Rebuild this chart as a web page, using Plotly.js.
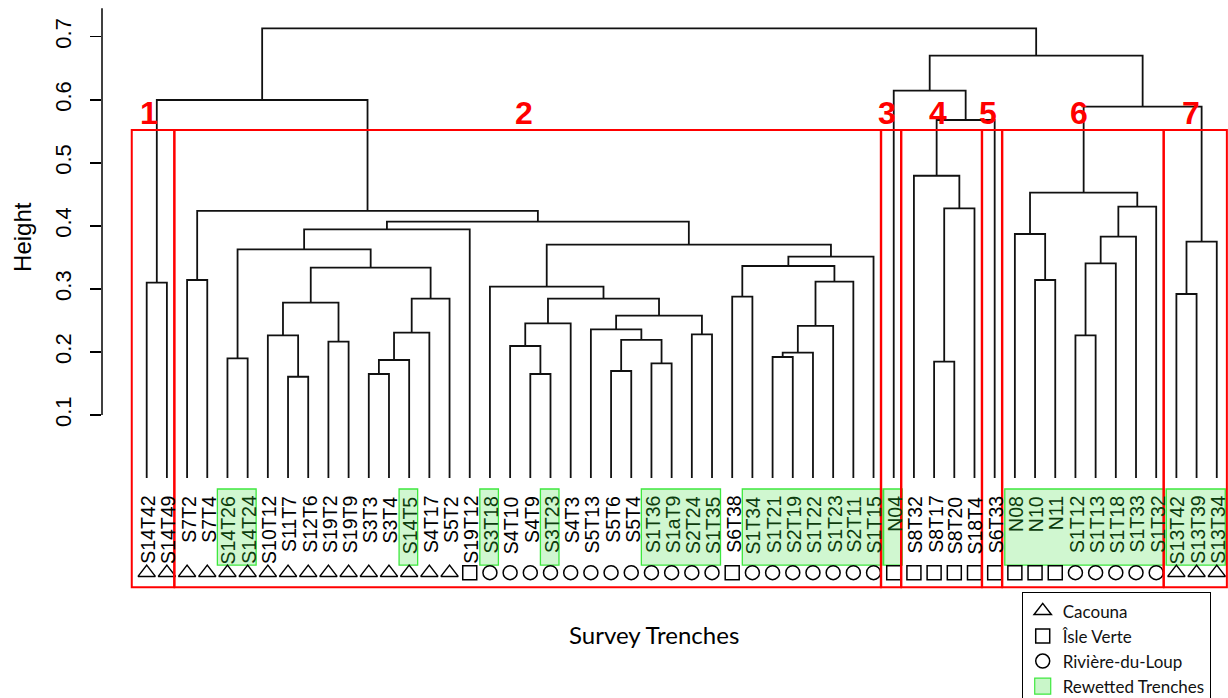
<!DOCTYPE html>
<html>
<head>
<meta charset="utf-8">
<script src="https://cdn.plot.ly/plotly-3.0.1.min.js"></script>
<style>
  html, body { margin: 0; padding: 0; background: #fff; }
  #chart { width: 1228px; height: 698px; }
</style>
</head>
<body>
<div id="chart"></div>
<script>
// Survey trenches in dendrogram (leaf) order
const leafLabels = [
  'S14T42','S14T49','S7T2','S7T4','S14T26','S14T24','S10T12','S11T7','S12T6','S19T2',
  'S19T9','S3T3','S3T4','S14T5','S4T17','S5T2','S19T12','S3T18','S4T10','S4T9',
  'S3T23','S4T3','S5T13','S5T6','S5T4','S1T36','S1aT9','S2T24','S1T35','S6T38',
  'S1T34','S1T21','S2T19','S1T22','S1T23','S2T11','S1T15','N04','S8T32','S8T17',
  'S8T20','S18T4','S6T33','N08','N10','N11','S1T12','S1T13','S1T18','S1T33',
  'S1T32','S13T42','S13T39','S13T34'
];

// Site of each trench: C = Cacouna, I = Îsle Verte, R = Rivière-du-Loup
const leafSite = [
  'C','C','C','C','C','C','C','C','C','C',
  'C','C','C','C','C','C','I','R','R','R',
  'R','R','R','R','R','R','R','R','R','I',
  'R','R','R','R','R','R','R','I','I','I',
  'I','I','I','I','I','I','R','R','R','R',
  'R','C','C','C'
];
const siteCodes = ['C', 'I', 'R'];
const siteNames = ['Cacouna', 'Îsle Verte', 'Rivière-du-Loup'];

// 1 = rewetted trench
const rewetted = [
  0,0,0,0,1,1,0,0,0,0,
  0,0,0,1,0,0,0,1,0,0,
  1,0,0,0,0,1,1,1,1,0,
  1,1,1,1,1,1,1,1,0,0,
  0,0,0,1,1,1,1,1,1,1,
  1,1,1,1
];

// Agglomeration steps (hclust convention: -i = leaf i, +k = result of step k)
const mergeA = [
  -8, -12, -20, -24, -26, -40, -14, -5, -32, 9,
  -19, -10, 4, -7, -47, -28, 7, -23, 10, 11,
  18, 14, 17, 20, -30, -52, -18, -1, 19, -3,
  -45, 22, 25, 15, 33, 8, 27, 26, 34, -44,
  36, 41, 30, 6, 39, 40, -39, 47, 46, 28,
  -38, 51, 50
];
const mergeB = [
  -9, -13, -21, -25, -27, -41, 2, -6, -33, -34,
  3, -11, 5, 1, -48, -29, -15, 13, -35, -22,
  16, 12, -16, 21, -31, -53, 24, -2, -36, -4,
  -46, 23, 29, -49, -37, 32, 35, -54, -50, 31,
  -17, 37, 42, -42, -51, 45, 44, -43, 38, 43,
  48, 49, 52
];
const mergeHeight = [
  0.1607, 0.1650, 0.1650, 0.1698, 0.1820, 0.1845, 0.1872, 0.1899, 0.1920, 0.1988,
  0.2094, 0.2163, 0.2190, 0.2264, 0.2264, 0.2280, 0.2305, 0.2359, 0.2412, 0.2454,
  0.2575, 0.2781, 0.2845, 0.2845, 0.2876, 0.2919, 0.3035, 0.3098, 0.3114, 0.3141,
  0.3141, 0.3336, 0.3363, 0.3406, 0.3511, 0.3628, 0.3701, 0.3749, 0.3828, 0.3871,
  0.3945, 0.4066, 0.4236, 0.4278, 0.4304, 0.4526, 0.4795, 0.5679, 0.5890, 0.5996,
  0.6144, 0.6699, 0.7133
];

// Seven groups, left to right (number of trenches in each)
const clusterSizes = [2, 35, 1, 4, 1, 8, 3];
const clusterNames = ['1', '2', '3', '4', '5', '6', '7'];

const yTicks = [0.1, 0.2, 0.3, 0.4, 0.5, 0.6, 0.7];

// ---------- geometry helpers ----------
const SYMBOL_ROW = -0.15;      // height of the site-symbol row
const LABEL_TOP = -0.027;      // top of the rotated trench labels
const BOX_TOP = 0.552;         // top of the group rectangles
const BOX_BOTTOM = -0.1733;
const SHADE_TOP = -0.0174, SHADE_BOTTOM = -0.138;

const n = leafLabels.length;
const leafX = leafLabels.map((_, i) => i + 1);

// dendrogram segments
const nodeX = [], nodeH = [];
function child(id) {
  return id < 0 ? { x: leafX[-id - 1], h: 0 } : { x: nodeX[id - 1], h: nodeH[id - 1] };
}
const segX = [], segY = [];
mergeA.forEach((a, k) => {
  const A = child(a), B = child(mergeB[k]), H = mergeHeight[k];
  segX.push(A.x, A.x, B.x, B.x, null);
  segY.push(A.h, H, H, B.h, null);
  nodeX.push((A.x + B.x) / 2);
  nodeH.push(H);
});

const traces = [{
  type: 'scatter', mode: 'lines', x: segX, y: segY,
  line: { color: '#111', width: 1.8 }, hoverinfo: 'skip', showlegend: false
}];

// site symbols
const siteSymbols = ['triangle-up-open', 'square-open', 'circle-open'];
const siteSizes = [15, 14, 14];
siteCodes.forEach((code, s) => {
  const xs = leafX.filter((_, i) => leafSite[i] === code);
  traces.push({
    type: 'scatter', mode: 'markers', name: siteNames[s],
    x: xs, y: xs.map(() => SYMBOL_ROW),
    marker: { symbol: siteSymbols[s], size: siteSizes[s], color: '#000', line: { color: '#000', width: 1.5 } },
    hoverinfo: 'skip'
  });
});
// legend key for the shaded (rewetted) trenches
traces.push({
  type: 'scatter', mode: 'markers', name: 'Rewetted Trenches', x: [null], y: [null],
  marker: { symbol: 'square', size: 21, color: 'rgba(40,220,40,0.25)', line: { color: '#3ee83e', width: 1.2 } }
});

// ---------- shapes ----------
const shapes = [];
// y axis line
shapes.push({ type: 'line', xref: 'paper', yref: 'y', x0: 0, x1: 0, y0: 0.1, y1: 0.745,
  line: { color: '#000', width: 1.5 } });

// group rectangles
const clusterStart = [];
let acc = 0;
clusterSizes.forEach(sz => { clusterStart.push(acc + 1); acc += sz; });
const clusterOf = [];
clusterSizes.forEach((sz, c) => { for (let j = 0; j < sz; j++) clusterOf.push(c); });

const annotations = [];
clusterSizes.forEach((sz, c) => {
  const first = clusterStart[c], last = first + sz - 1;
  const x0 = first - (c === 0 ? 0.74 : 0.62);
  const x1 = last + (c === clusterSizes.length - 1 ? 0.5 : 0.36);
  shapes.push({ type: 'rect', xref: 'x', yref: 'y', x0, x1, y0: BOX_BOTTOM, y1: BOX_TOP,
    line: { color: '#ff0000', width: 2 }, fillcolor: 'rgba(0,0,0,0)', layer: 'above' });
  annotations.push({ x: (x0 + x1) / 2 - 0.2, y: 0.579, xref: 'x', yref: 'y', text: clusterNames[c],
    showarrow: false, xanchor: 'center', yanchor: 'middle',
    font: { family: 'Liberation Sans, Arial, sans-serif', size: 32, weight: 'bold', color: '#ff0000' } });
});

// shaded runs of rewetted trenches (split at group borders)
let runStart = null;
for (let i = 0; i <= n; i++) {
  const on = i < n && rewetted[i] === 1;
  const sameGroup = runStart !== null && i < n && clusterOf[i] === clusterOf[runStart];
  if (runStart !== null && (!on || !sameGroup)) {
    shapes.push({ type: 'rect', xref: 'x', yref: 'y', x0: leafX[runStart] - 0.5, x1: leafX[i - 1] + 0.42,
      y0: SHADE_BOTTOM, y1: SHADE_TOP, line: { color: '#3ee83e', width: 1.3 },
      fillcolor: 'rgba(40,220,40,0.22)', layer: 'below' });
    runStart = null;
  }
  if (on && runStart === null) runStart = i;
}

// trench labels
leafLabels.forEach((lab, i) => {
  annotations.push({ x: leafX[i], y: LABEL_TOP, xref: 'x', yref: 'y', text: lab, showarrow: false,
    textangle: -90, xanchor: 'center', yanchor: 'top', borderpad: 0, xshift: 1,
    font: { family: 'Liberation Sans, Arial, sans-serif', size: 19.5, color: rewetted[i] ? '#0d3d0d' : '#000' } });
});

// axis titles
annotations.push({ xref: 'paper', yref: 'paper', x: -0.0702, y: 0.6605, text: 'Height', showarrow: false,
  textangle: -90, xanchor: 'center', yanchor: 'middle',
  font: { family: 'Liberation Sans, Arial, sans-serif', size: 24, color: '#000' } });
annotations.push({ xref: 'paper', yref: 'paper', x: 0.4902, y: 0.0903, text: 'Survey Trenches', showarrow: false,
  xanchor: 'center', yanchor: 'middle',
  font: { family: 'Lato, sans-serif', size: 24, color: '#000' } });

const layout = {
  width: 1228, height: 698,
  margin: { l: 102, r: 0, t: 0, b: 0, pad: 0, autoexpand: false },
  paper_bgcolor: '#fff', plot_bgcolor: '#fff',
  xaxis: { range: [-1.214, 54.556], visible: false, fixedrange: true },
  yaxis: {
    range: [-0.34885, 0.75821], tickvals: yTicks, ticks: 'outside', ticklen: 11, tickwidth: 1.5,
    tickcolor: '#000', showgrid: false, zeroline: false, showline: false, tickangle: -90,
    ticklabelstandoff: 10,
    tickfont: { family: 'Liberation Sans, Arial, sans-serif', size: 22, color: '#000' }, fixedrange: true
  },
  showlegend: true,
  legend: {
    x: 0.8168, y: 0.1514, xanchor: 'left', yanchor: 'top', bgcolor: '#fff',
    bordercolor: '#000', borderwidth: 1, itemsizing: 'trace', tracegroupgap: 0,
    entrywidth: 260, entrywidthmode: 'pixels',
    font: { family: 'Lato, sans-serif', size: 17, color: '#111' }
  },
  shapes, annotations
};

Plotly.newPlot('chart', traces, layout, { staticPlot: true, displayModeBar: false });
</script>
</body>
</html>
